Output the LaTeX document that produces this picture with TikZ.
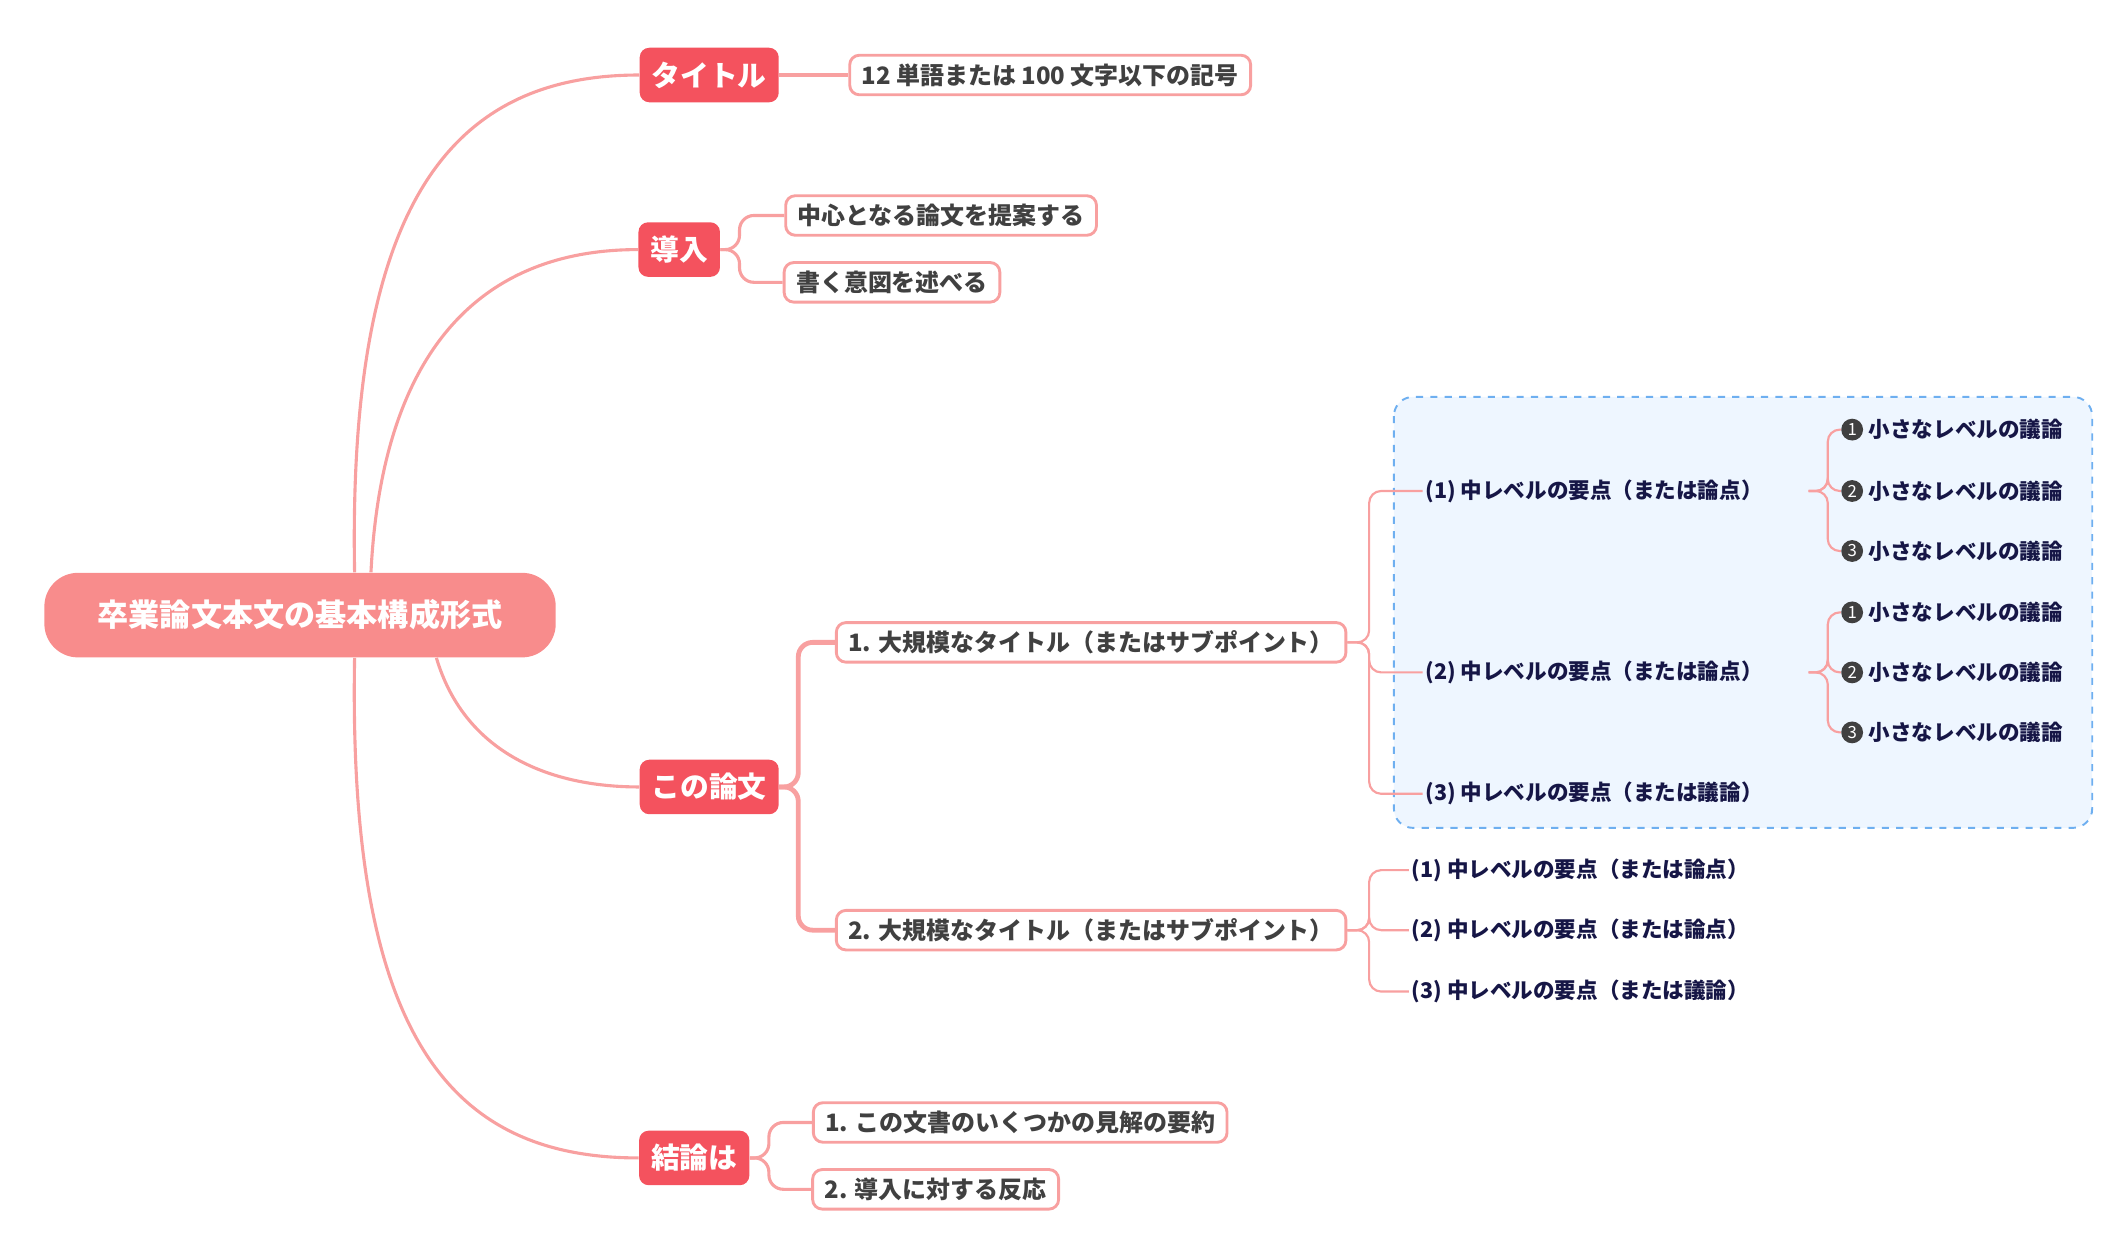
\documentclass[tikz,border=0pt]{standalone}
\usepackage{fontspec}
\setmainfont{Noto Sans CJK JP}
\usetikzlibrary{positioning}
\definecolor{rootfill}{RGB}{248,140,140}
\definecolor{topfill}{RGB}{244,82,94}
\definecolor{linkpink}{RGB}{248,160,160}
\definecolor{navy}{RGB}{22,22,70}
\definecolor{boxblue}{RGB}{238,246,255}
\definecolor{dashblue}{RGB}{110,175,240}

\begin{document}
\begin{tikzpicture}[x=0.02cm, y=-0.02cm]
    \tikzset{ rootn/.style={fill=rootfill, rounded corners=14pt, text=white, font=\bfseries\fontsize{13}{13}\selectfont, minimum width=7.5cm, minimum height=1.24cm} }
    \tikzset{ topn/.style={fill=topfill, rounded corners=4pt, text=white, font=\bfseries\fontsize{12}{12}\selectfont, minimum height=0.8cm, inner xsep=5pt} }
    \tikzset{ subn/.style={draw=linkpink, line width=1.2pt, fill=white, rounded corners=4pt, text=black!75, font=\bfseries\fontsize{10}{10}\selectfont, minimum height=0.58cm, inner xsep=5pt} }
    \tikzset{ midn/.style={anchor=west, text=navy, font=\bfseries\fontsize{9}{9}\selectfont, inner sep=1pt} }
    \tikzset{ numc/.style={circle, fill=black!75, text=white, inner sep=0pt, minimum size=0.32cm, font=\fontsize{7}{7}\selectfont} }
    \tikzset{ curve/.style={draw=linkpink, line width=1.3pt} }
    \tikzset{ elbow/.style={draw=linkpink, line width=1.3pt, rounded corners=6pt} }
    \tikzset{ thin/.style={draw=linkpink, line width=0.9pt, rounded corners=5pt} }

    \useasboundingbox (0,0) rectangle (1550,922);
    \fill[boxblue, draw=dashblue, dashed, line width=0.8pt, rounded corners=8pt] (1022,291) rectangle (1534,607);

    \node[rootn] (root) at (220,451) {卒業論文本文の基本構成形式};

    \node[topn] (tit) at (520,55)  {タイトル};
    \node[topn] (intro) at (498,183) {導入};
    \node[topn] (body) at (520,577) {この論文};
    \node[topn] (conc) at (509,849) {結論は};

    \node[subn] (t1) at (770,55)  {12 単語または 100 文字以下の記号};
    \node[subn] (i1) at (690,158) {中心となる論文を提案する};
    \node[subn] (i2) at (654,207) {書く意図を述べる};
    \node[subn] (b1) at (800,471) {1. 大規模なタイトル（またはサブポイント）};
    \node[subn] (b2) at (800,682) {2. 大規模なタイトル（またはサブポイント）};
    \node[subn] (c1) at (748,823) {1. この文書のいくつかの見解の要約};
    \node[subn] (c2) at (686,872) {2. 導入に対する反応};

    \node[midn] (m11) at (1043,360) {(1) 中レベルの要点（または論点）};
    \node[midn] (m12) at (1043,493) {(2) 中レベルの要点（または論点）};
    \node[midn] (m13) at (1043,582) {(3) 中レベルの要点（または議論）};
    \node[midn] (m21) at (1033,638) {(1) 中レベルの要点（または論点）};
    \node[midn] (m22) at (1033,682) {(2) 中レベルの要点（または論点）};
    \node[midn] (m23) at (1033,727) {(3) 中レベルの要点（または議論）};

    % small points
    \foreach \g/\y/\n in {a/315/1, a/360/2, a/404/3, b/449/1, b/493/2, b/537/3} {
        \node[numc] (num\g\n) at (1358,\y) {\n};
        \node[midn, right=1pt of num\g\n] (s\g\n) {小さなレベルの議論};
    }

    % root to topics
    \draw[curve] ([xshift=0.8cm]root.north) .. controls (255,150) and (330,55) .. (tit.west);
    \draw[curve] ([xshift=1.04cm]root.north) .. controls (280,260) and (350,183) .. (intro.west);
    \draw[curve] ([xshift=2cm]root.south) .. controls (340,550) and (400,577) .. (body.west);
    \draw[curve] ([xshift=0.8cm]root.south) .. controls (255,760) and (330,849) .. (conc.west);

    % topics to children
    \draw[elbow] (tit.east) -- (t1.west);
    \draw[elbow] (intro.east) -- ++(14,0) |- (i1.west);
    \draw[elbow] (intro.east) -- ++(14,0) |- (i2.west);
    \draw[elbow, line width=2pt] (body.east) -- ++(14,0) |- (b1.west);
    \draw[elbow, line width=2pt] (body.east) -- ++(14,0) |- (b2.west);
    \draw[elbow] (conc.east) -- ++(14,0) |- (c1.west);
    \draw[elbow] (conc.east) -- ++(14,0) |- (c2.west);

    \foreach \m in {m11, m12, m13} { \draw[thin] (b1.east) -- ++(16,0) |- ([xshift=-12pt]\m.west) -- (\m.west); }
    \foreach \m in {m21, m22, m23} { \draw[thin] (b2.east) -- ++(16,0) |- ([xshift=-6pt]\m.west) -- (\m.west); }
    \foreach \n in {1,2,3} {
        \draw[thin] ([xshift=18]m11.east) -- ++(14,0) |- (numa\n.west);
        \draw[thin] ([xshift=18]m12.east) -- ++(14,0) |- (numb\n.west);
    }
\end{tikzpicture}
\end{document}
